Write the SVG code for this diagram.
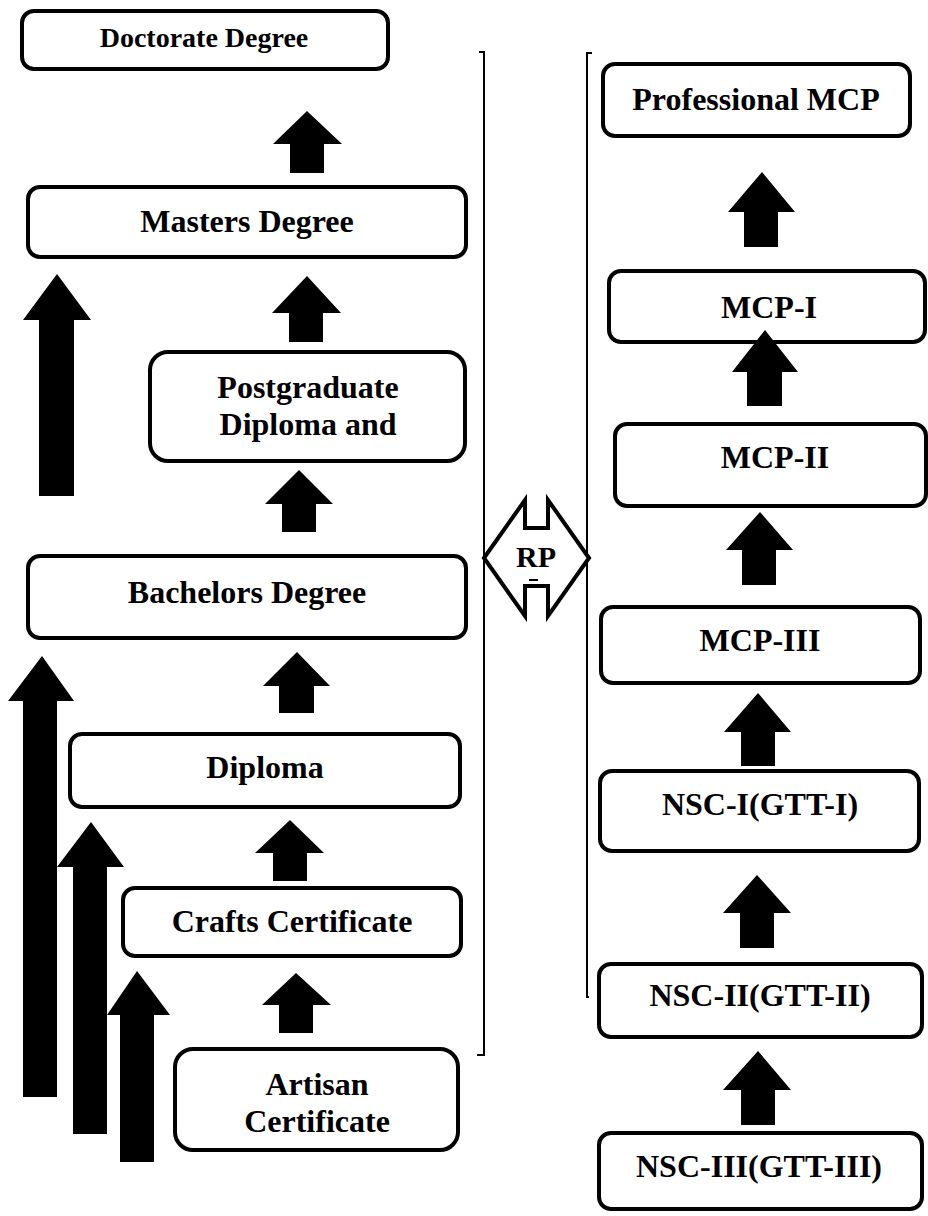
<svg xmlns="http://www.w3.org/2000/svg" width="928" height="1216" viewBox="0 0 928 1216">
<style>
.box{fill:#fff;stroke:#000;stroke-width:4}
.t{font-family:"Liberation Serif","Times New Roman",serif;font-weight:bold;font-size:32px;fill:#000;text-anchor:middle}
.arr{fill:#000}
.br{fill:none;stroke:#000;stroke-width:2}
</style>
<rect width="928" height="1216" fill="#fff"/>
<g id="connectors">
<polygon class="arr" points="307,111 342,144 324,144 324,173 290,173 290,144 273,144"/>
<polygon class="arr" points="307,276 341,313 323,313 323,342 289,342 289,313 272,313"/>
<polygon class="arr" points="299,470 333,504 316,504 316,532 282,532 282,504 265,504"/>
<polygon class="arr" points="297,652 330,686 314,686 314,713 279,713 279,686 263,686"/>
<polygon class="arr" points="290,820 324,853 307,853 307,881 273,881 273,853 255,853"/>
<polygon class="arr" points="296,973 331,1005 313,1005 313,1033 279,1033 279,1005 262,1005"/>
<polygon class="arr" points="57,274 91,320 74,320 74,496 39,496 39,320 23,320"/>
<polygon class="arr" points="42,656 74,701 57,701 57,1097 23,1097 23,701 8,701"/>
<polygon class="arr" points="91,822 124,867 107,867 107,1134 73,1134 73,867 57,867"/>
<polygon class="arr" points="137,971 170,1015 154,1015 154,1162 120,1162 120,1015 107,1015"/>
<polygon class="arr" points="762,172 795,212 778,212 778,247 744,247 744,212 728,212"/>
<polygon class="arr" points="760,512 793,550 776,550 776,585 742,585 742,550 726,550"/>
<polygon class="arr" points="758,693 791,732 775,732 775,766 741,766 741,732 724,732"/>
<polygon class="arr" points="757,875 791,913 774,913 774,948 740,948 740,913 723,913"/>
<polygon class="arr" points="758,1051 791,1090 775,1090 775,1125 741,1125 741,1090 723,1090"/>
<polyline class="br" points="479,52 484,52 484,1055 477,1055"/>
<polyline class="br" points="592,53 587,53 587,997 589,997"/>
</g>
<g id="doctorate"><rect class="box" x="22" y="11" width="366" height="58" rx="12"/><text class="t" x="204" y="47" style="font-size:28px">Doctorate Degree</text></g>
<g id="masters"><rect class="box" x="28" y="187" width="438" height="70" rx="12"/><text class="t" x="247" y="232">Masters Degree</text></g>
<g id="postgraduate"><rect class="box" x="150" y="352" width="315" height="109" rx="18"/><text class="t" x="308" y="398">Postgraduate</text><text class="t" x="308" y="435">Diploma and</text></g>
<g id="bachelors"><rect class="box" x="28" y="556" width="438" height="82" rx="12"/><text class="t" x="247" y="603">Bachelors Degree</text></g>
<g id="diploma"><rect class="box" x="70" y="734" width="390" height="73" rx="12"/><text class="t" x="265" y="778">Diploma</text></g>
<g id="crafts"><rect class="box" x="123" y="888" width="338" height="68" rx="12"/><text class="t" x="292" y="932">Crafts Certificate</text></g>
<g id="artisan"><rect class="box" x="175" y="1049" width="283" height="101" rx="18"/><text class="t" x="317" y="1095">Artisan</text><text class="t" x="317" y="1132">Certificate</text></g>
<g id="rp">
<polygon fill="#fff" stroke="#000" stroke-width="4" stroke-linejoin="miter" points="484,558 525,500 525,528 548,528 548,500 589,558 548,616 548,586 525,586 525,616"/>
<text class="t" x="536" y="567" style="font-size:30px">RP</text>
<line x1="529" y1="580" x2="538" y2="580" stroke="#000" stroke-width="2"/>
</g>
<g id="professional-mcp"><rect class="box" x="603" y="64" width="307" height="72" rx="12"/><text class="t" x="756" y="110">Professional MCP</text></g>
<g id="mcp-i"><rect class="box" x="609" y="271" width="316" height="71" rx="12"/><text class="t" x="769" y="318">MCP-I</text></g>
<g id="mcp-ii"><rect class="box" x="615" y="424" width="311" height="82" rx="12"/><text class="t" x="775" y="468">MCP-II</text></g>
<g id="mcp-iii"><rect class="box" x="601" y="607" width="319" height="76" rx="12"/><text class="t" x="760" y="651">MCP-III</text></g>
<g id="nsc-i"><rect class="box" x="600" y="771" width="319" height="80" rx="12"/><text class="t" x="760" y="815">NSC-I(GTT-I)</text></g>
<g id="nsc-ii"><rect class="box" x="599" y="964" width="323" height="73" rx="12"/><text class="t" x="760" y="1006">NSC-II(GTT-II)</text></g>
<g id="nsc-iii"><rect class="box" x="599" y="1133" width="323" height="76" rx="12"/><text class="t" x="759" y="1177">NSC-III(GTT-III)</text></g>
<g id="arrow-overlay"><polygon class="arr" points="765,330 798,372 782,372 782,406 747,406 747,372 732,372"/></g>
</svg>
